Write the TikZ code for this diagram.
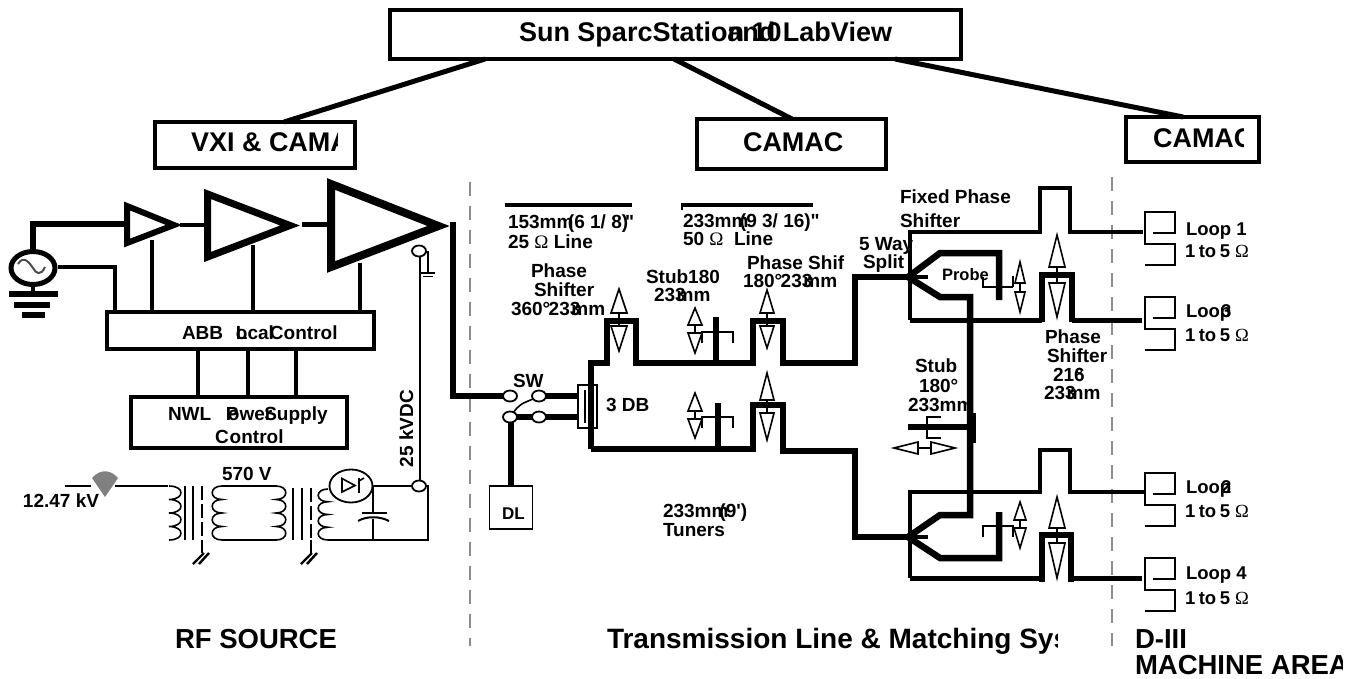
\documentclass[tikz,border=0pt]{standalone}
\usepackage{fontspec}
\newfontfamily\basefont{Liberation Sans}
\newfontfamily\omfont{Liberation Serif}
\newcommand\Om{{\omfont\mdseries Ω}}
\newcommand\fz[1]{\basefont\fontsize{#1}{#1}\selectfont\bfseries}
\newcommand\coil[4]{% x, y-start, bulge, step
  \draw[thin1] (#1,#2) .. controls ({#1+1.45*#3},#2) and ({#1+1.45*#3},{#2+#4}) .. (#1,{#2+#4})
   .. controls ({#1+1.45*#3},{#2+#4}) and ({#1+1.45*#3},{#2+2*#4}) .. (#1,{#2+2*#4})
   .. controls ({#1+1.45*#3},{#2+2*#4}) and ({#1+1.45*#3},{#2+3*#4}) .. (#1,{#2+3*#4})
   .. controls ({#1+1.45*#3},{#2+3*#4}) and ({#1+1.45*#3},{#2+4*#4}) .. (#1,{#2+4*#4});}
\newcommand\tuner[7]{% x, uptip, upbase, downbase, downtip, half up, half down
  \draw[thin1] (#1,#3) -- (#1,#4);
  \draw[thin1,line join=miter] (#1,#2) -- ({#1-#6},#3) -- ({#1+#6},#3) -- cycle;
  \draw[thin1,line join=miter] (#1,#5) -- ({#1-#7},#4) -- ({#1+#7},#4) -- cycle;}
\tikzset{
  txt/.style={anchor=base west,inner sep=0pt,outer sep=0pt,font=\fz{19}},
  bigt/.style={txt,font=\fz{27.5}},
  lbl/.style={txt,font=\fz{18.5}},
  boxa/.style={draw=black,line width=4pt,fill=white,inner sep=0pt,outer sep=0pt},
  thin1/.style={line width=1.6pt},
  med/.style={line width=4.5pt},
  thick1/.style={line width=6pt},
  oval/.style={draw=black,fill=white,line width=1.8pt,ellipse,inner sep=0pt,outer sep=0pt,minimum width=14pt,minimum height=11pt},
  sep/.style={draw=gray!90,line width=1.6pt,dash pattern=on 14pt off 10pt},
}
\usetikzlibrary{shapes.geometric}
\begin{document}
\begin{tikzpicture}[x=1pt,y=-1pt,line join=miter]
\useasboundingbox (0,0) rectangle (1357,679);
% separators
\draw[sep] (470,182) -- (470,646);
\draw[sep] (1112,177) -- (1112,646);
% control boxes
\node[boxa,minimum width=571pt,minimum height=49pt] (sun) at (675.5,34.5) {};
\node[boxa,minimum width=200pt,minimum height=46pt] (vxi) at (255,145) {};
\node[boxa,minimum width=189pt,minimum height=50pt] (cm1) at (791.5,144) {};
\node[boxa,minimum width=133pt,minimum height=45pt] (cm2) at (1192.5,139.5) {};
\draw[line width=5pt] ([xshift=95pt]sun.south west) -- ([xshift=129pt]vxi.north west);
\draw[line width=5pt] ([xshift=284pt]sun.south west) -- ([xshift=95pt]cm1.north west);
\draw[line width=5pt] ([xshift=505pt]sun.south west) -- ([xshift=57pt]cm2.north west);
\node[txt,font=\fz{27}] (sunA) at (519,42) {Sun SparcStation 10};
\node[txt,font=\fz{27},anchor=base east] (sunB) at (892,42) {and LabView};
\begin{scope}\clip (160,125) rectangle (337,165);
\node[txt,font=\fz{27}] (vxiT) at (191,152) {VXI \& CAMAC};\end{scope}
\node[txt,font=\fz{27}] (cm1T) at (743,152) {CAMAC};
\begin{scope}\clip (1130,120) rectangle (1243,158);
\node[txt,font=\fz{27}] (cm2T) at (1153,148) {CAMAC};\end{scope}
% RF chain
\coordinate (srcTop) at (33,250);
\draw[thick1] (srcTop) -- (33,224) -- (127,224);
\draw[line width=4.5pt] (180,225) -- (207,225);
\draw[line width=5pt] (302,225) -- (331,225);
\draw[line width=6pt] (127,206) -- (127,243) -- (174,225) -- cycle;
\draw[line width=7pt] (207.5,194) -- (207.5,257) -- (290,225.5) -- cycle;
\draw[line width=8pt] (331,184) -- (331,267) -- (438.5,226) -- cycle;
\node[boxa,line width=3.6pt,minimum width=267pt,minimum height=37pt] (abb) at (240.5,330.5) {};
\node[boxa,line width=3.6pt,minimum width=216pt,minimum height=51pt] (nwl) at (239,422.5) {};
\draw[line width=4pt] (58,267) -- (115,267) -- ([xshift=8pt]abb.north west);
\draw[line width=4pt] (152,240) -- ([xshift=45pt]abb.north west);
\draw[line width=4pt] (253,245) -- ([xshift=146pt]abb.north west);
\draw[line width=4pt] (360,263) -- ([xshift=253pt]abb.north west);
\foreach \a in {91,141,189}{\draw[line width=4pt] ([xshift=\a pt]abb.south west) -- ([xshift=\a pt-24pt]nwl.north west);}
\node[txt] (abbT) at (182,339) {ABB\kern12.8pt L\kern-11.6pt ocal\kern-4pt Control};
\node[txt] (nwlT) at (168,420) {NWL\kern14.7pt P\kern-10.7pt ower\kern-8pt Supply};
\node[txt] (nwlU) at (215,443) {C\kern1pt ontrol};
% source
\draw[line width=5pt] (33,268) ellipse (22 and 16.5);
\draw[line width=2pt,gray!60!black] (18,264) .. controls (24,254) and (30,264) .. (33,268) .. controls (36,274) and (41,276) .. (45,267);
\draw[line width=4pt] (33,285) -- (33,294);
\draw[line width=6pt] (9,294) -- (58,294);
\draw[line width=6pt] (14,305) -- (50,305);
\draw[line width=6pt] (22,315) -- (45,315);
% output and HV
\draw[thick1] (453,222) -- (453,396) -- (510,396);
\draw[thin1] (420,245) -- (420,486);
\draw[thin1] (424,252) -- (428,252) -- (428,273);
\draw[thin1] (421,273) -- (435,273);
\draw[thin1] (423,276.5) -- (433,276.5);
\node[txt,rotate=90] (kvdc) at (413,467) {25 kVDC};
\node[oval] (ovA) at (419,251) {};
% mains
\draw[thin1] (65,486) -- (91,486);
\fill[gray] (105,497) -- (92,478) .. controls (100,469) and (110,469) .. (118,478) -- cycle;
\draw[thin1] (115,486) -- (168,486);
\coil{169}{486}{11}{13.5}
\foreach \x in {185,193}{\draw[thin1] (\x,486) -- (\x,540);}
\draw[thin1,dash pattern=on 14pt off 4pt] (202,486) -- (202,540);
\draw[thin1] (202,540) -- (202,553);
\draw[line width=2.4pt] (193,564) -- (204,553) (199,564) -- (209,553);
\coil{222}{486}{-9}{13.5}
\draw[thin1] (222,486) -- (277,486);
\draw[thin1] (222,540) -- (277,540);
\coil{276}{486}{9}{13.5}
\foreach \x in {293,302}{\draw[thin1] (\x,488) -- (\x,540);}
\draw[thin1,dash pattern=on 14pt off 4pt] (311,488) -- (311,540);
\draw[thin1] (311,540) -- (311,553);
\draw[line width=2.4pt] (301,564) -- (312,553) (307,564) -- (317,553);
\coil{328}{489}{-9}{12.75}
\draw[thin1] (328,540) -- (428,540) -- (428,486) -- (372,486);
\draw[thin1] (373,486) -- (373,513) (373,519) -- (373,540);
\draw[line width=2.4pt] (362,513) -- (387,513);
\draw[line width=2pt] (358,521) .. controls (366,516) and (380,516) .. (389,521);
\node[draw=black,line width=1.8pt,fill=white,ellipse,inner sep=0pt,minimum width=43pt,minimum height=33pt] (tube) at (351,486) {};
\draw[thin1] (342,478.5) -- (342,492) -- (355,485.5) -- cycle;
\draw[line width=2.4pt] (359,478) -- (359,493);
\draw[thin1] (359,481) -- (364,478);
\node[oval] (ovB) at (419,486) {};
\node[txt] (v570) at (222,480) {570 V};
\node[txt] (kv) at (23,507) {12.47 kV};
% switch and hybrid
\draw[thick1] (539,396) -- (577,396);
\draw[thick1] (510,417) -- (577,417);
\node[draw=black,thin1,minimum width=43pt,minimum height=43pt,inner sep=0pt,outer sep=0pt] (dl) at (511,507.5) {};
\draw[thick1] (511,417) -- (dl.north);
\node[oval] (sw1) at (510,396) {};
\node[oval] (sw2) at (539,396) {};
\node[oval] (sw3) at (510,417) {};
\node[oval] (sw4) at (539,417) {};
\draw[thin1] (sw3) .. controls (521,402) and (527,402) .. (sw2);
\node[txt] (swT) at (513,387) {SW};
\node[txt,font=\fz{17}] (dlT) at (502,519) {DL};
% main lines
\draw[line width=6pt] (591,449) -- (591,363) -- (607,363) -- (607,321) -- (636,321) -- (636,363) -- (753,363) -- (753,321) -- (783,321) -- (783,363) -- (855,363) -- (855,277) -- (908,277);
\draw[line width=6pt] (591,449) -- (753,449) -- (753,405) -- (783,405) -- (783,451) -- (855,451) -- (855,537) -- (908,537);
\node[draw=black,thin1,minimum width=19pt,minimum height=43pt,inner sep=0pt,outer sep=0pt] (hyb) at (587.5,406.5) {};
\draw[thick1] (591,385) -- (591,428);
\draw[thin1] (585,390) -- (585,423);
\node[txt] (dbT) at (606,411) {3 DB};
% tuners
\tuner{619}{289}{313}{326}{351}{8}{8}
\tuner{767}{290}{313}{326}{348}{7}{7}
\tuner{695}{308}{325}{333}{353}{7}{7}
\tuner{695}{393}{411}{419}{438}{7}{7}
\tuner{767}{373}{400}{413}{440}{7}{7}
\draw[thick1] (716,317) -- (716,363);
\draw[thin1] (702,343) -- (702,332) -- (733,332) -- (733,343);
\draw[thick1] (718,403) -- (718,451);
\draw[thin1] (702,428) -- (702,417) -- (733,417) -- (733,428);
% scale bars and labels
\draw[line width=4.5pt] (505,205) -- (632,205);
\draw[line width=4.5pt] (681,205) -- (813,205);
\draw[thin1] (682,205) -- (682,210);
\node[txt] (a1) at (508,229) {153mm\kern-5.5pt (6 1/ 8)\kern-3pt "};
\node[txt] (a2) at (508,248) {25 \Om{} Line};
\node[txt] (b1) at (683,227) {233mm\kern-8.5pt (9 3/ 16)"};
\node[txt] (b2) at (683,245) {50 \Om{}\ \ Line};
\node[txt] (p1) at (531,277) {Phase};
\node[txt] (p2) at (534,296) {Shifter};
\node[txt] (p3) at (511,315) {360°\kern-1.6pt 233\kern-9pt mm};
\node[txt] (st1) at (646,283) {Stub180};
\node[txt] (st2) at (654,301) {233\kern-9pt mm};
\begin{scope}\clip (740,250) rectangle (843,275);
\node[txt] (ps1) at (747,269) {Phase Shifter};\end{scope}
\node[txt] (ps2) at (743,287) {180°\kern-1.6pt 233\kern-9pt mm};
\node[txt] (tu1) at (663,517) {233mm\kern-9pt (9')};
\node[txt] (tu2) at (663,536) {Tuners};
\node[txt] (wy1) at (859,250) {5 Way};
\node[txt] (wy2) at (863,268) {Split};
\node[txt] (fx1) at (900,204) {Fixed Phase};
\node[txt] (fx2) at (900,227) {Shifter};
% upper splitter
\draw[med] (910,320) -- (910,232) -- (1040,232) -- (1040,188) -- (1070,188) -- (1070,232) -- (1143,232);
\draw[line width=5pt] (910,320) -- (1042,320);
\draw[line width=6pt] (1042,322) -- (1042,275) -- (1072,275) -- (1072,322);
\draw[line width=5pt] (1072,320) -- (1142,320);
\draw[line width=6.5pt] (999,300) -- (999,253) -- (940,253) -- (908,277) -- (940,297) -- (970,297) -- (970,515) -- (940,515) -- (908,537) -- (940,558) -- (999,558) -- (999,512);
\draw[line width=4.5pt] (908,277) -- (928,277);
\draw[line width=4.5pt] (908,537) -- (928,537);
\node[txt,font=\fz{16.5}] (prb) at (942,280) {Probe};
\draw[thin1] (983,277) -- (983,287) -- (1013,287) (1013,276) -- (1013,287);
\tuner{1020}{262}{283}{292}{312}{5}{5}
\tuner{1057}{235}{267}{283}{317}{8}{8}
\node[txt] (q1) at (1045,343) {Phase};
\node[txt] (q2) at (1047,362) {Shifter};
\node[txt] (q3) at (1053,381) {216\kern-9pt °};
\node[txt] (q4) at (1044,399) {233\kern-9pt mm};
\node[txt] (r1) at (915,372) {Stub};
\node[txt] (r2) at (919,392) {180°};
\begin{scope}\clip (900,392) rectangle (967,415);
\node[txt] (r3) at (908,411) {233mm};\end{scope}
% stub on the cross line
\draw[thick1] (908,427) -- (968,427);
\draw[thick1] (973,413) -- (973,443);
\draw[thin1] (941,417) -- (927,417) -- (927,438) -- (941,438);
\draw[thin1] (918,448) -- (931,448);
\draw[thin1] (894,448) -- (918,442) -- (918,454) -- cycle;
\draw[thin1] (955,448) -- (931,442) -- (931,454) -- cycle;
% lower splitter
\draw[med] (910,578) -- (910,492) -- (1040,492);
\draw[med] (1040,494) -- (1040,450) -- (1070,450) -- (1070,494);
\draw[med] (1070,492) -- (1144,492);
\draw[line width=5pt] (910,578) -- (1042,578);
\draw[line width=6pt] (1042,582) -- (1042,535) -- (1071,535) -- (1071,582);
\draw[line width=5pt] (1071,578) -- (1142,578);
\draw[thin1] (983,537) -- (983,526) -- (1013,526) -- (1013,537);
\tuner{1020}{502}{520}{528}{548}{6}{6}
\tuner{1057}{497}{528}{543}{578}{8}{8}
% loops
\foreach \y/\n in {212/1,297/3,473/2,558/4}{
  \draw[line width=1.8pt] (1153,\y+21) -- (1175,\y+21) -- (1175,\y) -- (1145,\y) -- (1145,\y+32) -- (1175,\y+32) -- (1175,\y+53) -- (1145,\y+53);
}
\node[lbl] (l1) at (1186,235) {Loop 1};
\node[lbl] (l1b) at (1185,258) {1\kern3.5pt to\kern3.5pt 5\kern5pt\Om};
\node[lbl] (l3) at (1186,317) {Loop\kern-10pt 3};
\node[lbl] (l3b) at (1185,341) {1\kern3.5pt to\kern3.5pt 5\kern5pt\Om};
\node[lbl] (l2) at (1186,493) {Loop\kern-10pt 2};
\node[lbl] (l2b) at (1185,517) {1\kern3.5pt to\kern3.5pt 5\kern5pt\Om};
\node[lbl] (l4) at (1186,579) {Loop 4};
\node[lbl] (l4b) at (1185,604) {1\kern3.5pt to\kern3.5pt 5\kern5pt\Om};
% captions
\node[bigt] (rf) at (175,648) {RF SOURCE};
\begin{scope}\clip (600,620) rectangle (1057,660);
\node[txt,font=\fz{28}] (tl) at (607,648) {Transmission Line \& Matching System};\end{scope}
\node[bigt] (d3) at (1135,648) {D-III};
\begin{scope}\clip (1130,650) rectangle (1342,679);
\node[bigt] (ma) at (1135,674) {MACHINE AREA};\end{scope}
\end{tikzpicture}
\end{document}
